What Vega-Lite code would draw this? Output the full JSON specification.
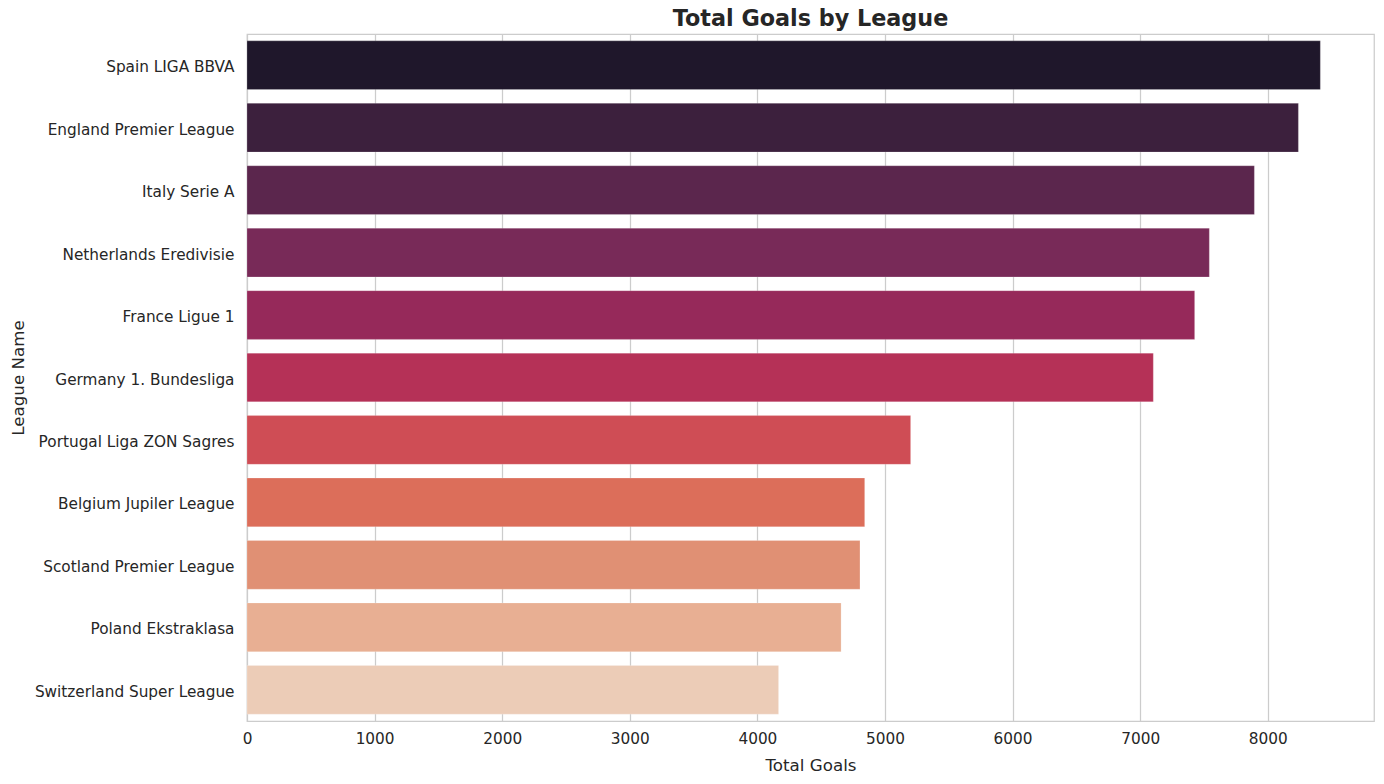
{
  "$schema": "https://vega.github.io/schema/vega-lite/v6.json",
  "autosize": {"type": "none"},
  "width": 1127,
  "height": 687,
  "padding": {"left": 247, "top": 34, "right": 10, "bottom": 63},
  "background": "white",
  "title": {
    "text": "Total Goals by League",
    "font": "DejaVu Sans",
    "fontSize": 22.3,
    "fontWeight": "bold",
    "color": "#262626",
    "anchor": "middle",
    "offset": 4
  },
  "config": {
    "view": {"stroke": "#cccccc", "strokeWidth": 1.25},
    "axis": {
      "labelFont": "DejaVu Sans",
      "titleFont": "DejaVu Sans",
      "labelColor": "#262626",
      "titleColor": "#262626",
      "labelFontSize": 15.3,
      "titleFontSize": 16.7,
      "titleFontWeight": "normal",
      "labelLimit": 300,
      "domain": false,
      "ticks": false
    }
  },
  "data": {
    "values": [
      {"league": "Spain LIGA BBVA", "goals": 8412},
      {"league": "England Premier League", "goals": 8240},
      {"league": "Italy Serie A", "goals": 7895},
      {"league": "Netherlands Eredivisie", "goals": 7542},
      {"league": "France Ligue 1", "goals": 7427},
      {"league": "Germany 1. Bundesliga", "goals": 7103},
      {"league": "Portugal Liga ZON Sagres", "goals": 5201},
      {"league": "Belgium Jupiler League", "goals": 4841},
      {"league": "Scotland Premier League", "goals": 4804},
      {"league": "Poland Ekstraklasa", "goals": 4656},
      {"league": "Switzerland Super League", "goals": 4166}
    ]
  },
  "mark": {"type": "bar", "stroke": "white", "strokeOpacity": 0.2, "strokeWidth": 1},
  "encoding": {
    "y": {
      "field": "league",
      "type": "nominal",
      "sort": null,
      "title": "League Name",
      "scale": {"paddingInner": 0.22, "paddingOuter": 0.11},
      "axis": {"grid": false, "labelPadding": 13, "labelOffset": 2, "titleX": -229, "titleY": 343.5, "titleAngle": 270, "titleBaseline": "middle", "titleAlign": "center"}
    },
    "x": {
      "field": "goals",
      "type": "quantitative",
      "title": "Total Goals",
      "scale": {"domain": [0, 8832.6], "nice": false, "zero": true},
      "axis": {
        "values": [0, 1000, 2000, 3000, 4000, 5000, 6000, 7000, 8000],
        "format": "d",
        "grid": true,
        "gridColor": "#cccccc",
        "gridWidth": 1.25,
        "labelPadding": 10,
        "titlePadding": 11,
        "labelFlush": false
      }
    },
    "color": {
      "field": "league",
      "type": "nominal",
      "sort": null,
      "legend": null,
      "scale": {
        "domain": ["Spain LIGA BBVA", "England Premier League", "Italy Serie A", "Netherlands Eredivisie", "France Ligue 1", "Germany 1. Bundesliga", "Portugal Liga ZON Sagres", "Belgium Jupiler League", "Scotland Premier League", "Poland Ekstraklasa", "Switzerland Super League"],
        "range": ["#1f172b", "#3c203d", "#5b264d", "#782a58", "#96295a", "#b53157", "#cf4d55", "#dc6e5a", "#e09074", "#e8af93", "#ecccb7"]
      }
    }
  }
}
